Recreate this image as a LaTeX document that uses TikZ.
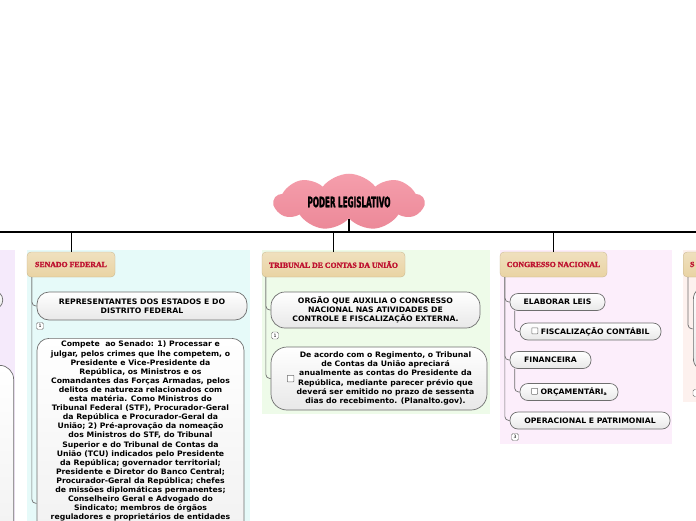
\documentclass[tikz,border=0pt]{standalone}
\usepackage{fontspec}
\setmainfont[FakeStretch=1.03]{DejaVu Sans}
\newfontfamily\titlefont[FakeBold=2]{Liberation Serif}
\newfontfamily\cloudfont[FakeStretch=0.5, FakeBold=1.5]{DejaVu Sans}
\usepackage{tikz}
\usetikzlibrary{shapes.symbols, positioning, calc}

\definecolor{cloudpink}{HTML}{F38D9D}
\definecolor{titletan}{HTML}{E9D3A3}
\definecolor{titlered}{HTML}{BE1230}
\definecolor{bgcyan}{HTML}{E6FAF9}
\definecolor{bggreen}{HTML}{EEFBE9}
\definecolor{bgpink}{HTML}{FCEEFB}
\definecolor{bglilac}{HTML}{F5EAFB}
\definecolor{bgpeach}{HTML}{FDF1EE}
\definecolor{edge}{HTML}{6E6E6E}

\newcommand{\chkbox}{\tikz[baseline=-0.5pt]\draw[edge, fill=white, rounded corners=0.5pt, line width=0.5pt] (0pt,0pt) rectangle (6pt,6pt);}

\tikzset{
  trunk/.style={draw=black, line width=1.2pt},
  branch/.style={draw=edge, line width=0.7pt, rounded corners=4pt},
  title/.style={rounded corners=4pt, top color=titletan!70!white, bottom color=titletan, draw=titletan!85!black, line width=0.3pt, text=titlered, font=\titlefont\bfseries\fontsize{7.8}{8}\selectfont, minimum height=25pt, inner sep=0pt},
  topic/.style={rounded corners=8pt, draw=edge, line width=0.7pt, top color=white, bottom color=gray!18, font=\bfseries\fontsize{7.5}{9.2}\selectfont, align=center, inner sep=0pt},
  plaintext/.style={font=\bfseries\fontsize{7.5}{9.1}\selectfont, align=center, inner sep=0pt},
  marker/.style={draw=edge, fill=white, rounded corners=1.5pt, minimum size=7pt, inner sep=0pt, font=\fontsize{4.5}{5}\selectfont},
  chk/.style={draw=edge, fill=white, minimum size=6.5pt, inner sep=0pt, rounded corners=0.5pt, line width=0.5pt},
}

\begin{document}
\begin{tikzpicture}[x=1pt,y=-1pt]
\clip (0,0) rectangle (696,520);
\fill[white] (0,0) rectangle (696,520);

% column backgrounds
\fill[bglilac] (-200,250) rectangle (15,530);
\fill[bgcyan] (27,250) rectangle (250,530);
\fill[bggreen] (262,250) rectangle (490,414);
\fill[bgpink] (500,250) rectangle (672,444);
\fill[bgpeach] (683,250) rectangle (900,402);

% root and main bar
\node[cloud, cloud puffs=9, cloud puff arc=105, aspect=3, top color=cloudpink!85!white, bottom color=cloudpink!97!black, minimum width=150pt, minimum height=51pt, inner sep=0pt, font=\cloudfont\bfseries\fontsize{14.5}{15}\selectfont](root) at (349,202){PODER LEGISLATIVO};
\coordinate(barL) at (-5,232);
\coordinate(barR) at (701,232);
\draw[trunk](barL)--(barR);
\draw[trunk, line width=2pt](root.south)--(root.south |- barL);

% column titles
\node[title, minimum width=88pt](senado) at (71,264.5){SENADO FEDERAL};
\node[title, minimum width=143pt](tcu) at (333.5,264.5){TRIBUNAL DE CONTAS DA UNIÃO};
\node[title, minimum width=107pt](cn) at (553.5,264.5){CONGRESSO NACIONAL};
\node[title, anchor=west, inner xsep=7pt, text width=80pt, align=left](sx) at (683,264.5){S};
\draw[trunk, line width=1pt](senado.north |- barL)--(senado.north);
\draw[trunk, line width=1pt](tcu.north |- barL)--(tcu.north);
\draw[trunk, line width=1pt](cn.north |- barL)--(cn.north);
\draw[trunk, line width=1pt](sx.north |- barL)--(sx.north);

% left column (cut off)
\node[topic, minimum width=100pt, minimum height=17pt, anchor=east](lx1) at (3,300){};
\node[topic, minimum width=150pt, minimum height=300pt, anchor=north east, rounded corners=14pt](lx2) at (14,365){};

% senado federal
\node[topic, minimum width=210pt, minimum height=28pt, rounded corners=12pt](rep) at (142,306){REPRESENTANTES DOS ESTADOS E DO\\DISTRITO FEDERAL};
\node[marker](m1) at (40,326){1};
\node[topic, minimum width=207pt, minimum height=330pt, rounded corners=12pt, anchor=north](compete) at (140.5,338){};
\node[plaintext, anchor=north](competetxt) at ([yshift=-3pt]compete.north){Compete\ \ ao Senado: 1) Processar e\\julgar, pelos crimes que lhe competem, o\\Presidente e Vice-Presidente da\\República, os Ministros e os\\Comandantes das Forças Armadas, pelos\\delitos de natureza relacionados com\\esta matéria. Como Ministros do\\Tribunal Federal (STF), Procurador-Geral\\da República e Procurador-Geral da\\União; 2) Pré-aprovação da nomeação\\dos Ministros do STF, do Tribunal\\Superior e do Tribunal de Contas da\\União (TCU) indicados pelo Presidente\\da República; governador territorial;\\Presidente e Diretor do Banco Central;\\Procurador-Geral da República; chefes\\de missões diplomáticas permanentes;\\Conselheiro Geral e Advogado do\\Sindicato; membros de órgãos\\reguladores e proprietários de entidades};
\draw[branch]([xshift=5pt]senado.south west)|-(rep.west);
\draw[branch]([xshift=5pt]senado.south west)|-(compete.west);

% tribunal de contas
\node[topic, minimum width=209pt, minimum height=36pt, rounded corners=14pt](orgao) at (375.5,310){ORGÃO QUE AUXILIA O CONGRESSO\\NACIONAL NAS ATIVIDADES DE\\CONTROLE E FISCALIZAÇÃO EXTERNA.};
\node[marker](m2) at (275,335.5){1};
\node[topic, minimum width=216pt, minimum height=63pt, rounded corners=16pt](acordo) at (379,378.5){};
\node[plaintext](acordotxt) at (385.5,378.5){De acordo com o Regimento, o Tribunal\\de Contas da União apreciará\\anualmente as contas do Presidente da\\República, mediante parecer prévio que\\deverá ser emitido no prazo de sessenta\\dias do recebimento. (Planalto.gov).};
\node[chk](c1) at (290.5,378.5){};
\draw[branch]([xshift=4pt]tcu.south west)|-(orgao.west);
\draw[branch]([xshift=4pt]tcu.south west)|-(acordo.west);

% congresso nacional
\node[topic, minimum width=95pt, minimum height=17pt](elab) at (557.5,302){ELABORAR LEIS};
\node[topic, minimum width=141pt, minimum height=17pt](fisc) at (590.5,331.5){\chkbox\ FISCALIZAÇÃO CONTÁBIL};
\node[topic, minimum width=81pt, minimum height=17pt](fin) at (550.5,360){FINANCEIRA};
\node[topic, minimum width=98pt, minimum height=17pt](orc) at (569,392){\chkbox\ ORÇAMENTÁRI\raisebox{-0.5pt}{\fontsize{4.5}{5}\selectfont a}};
\node[topic, minimum width=160pt, minimum height=17pt](oper) at (590,420.5){OPERACIONAL E PATRIMONIAL};
\node[marker](m3) at (515,437){3};
\draw[branch]([xshift=5pt]cn.south west)|-(elab.west);
\draw[branch]([xshift=5pt]cn.south west)|-(fin.west);
\draw[branch]([xshift=5pt]cn.south west)|-(oper.west);
\draw[branch]([xshift=5pt]elab.south west)|-(fisc.west);
\draw[branch]([xshift=5pt]fin.south west)|-(orc.west);

% right column (cut off)
\node[topic, minimum width=100pt, minimum height=87pt, anchor=north west, rounded corners=14pt](sxbox) at (693,285){};
\draw[branch]([xshift=5pt]sx.south west)|-(sxbox.west);
\node[marker](m4) at (696.5,393){};
\end{tikzpicture}
\end{document}
